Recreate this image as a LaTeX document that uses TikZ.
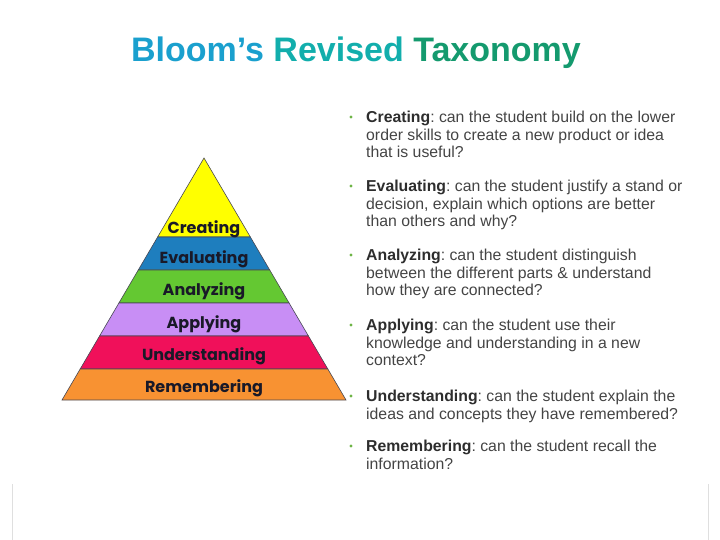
\documentclass[tikz,border=0pt]{standalone}
\usepackage{fontspec}
\setmainfont{Liberation Sans}
\newfontfamily\lvlfont{Poppins}
\usepackage{xcolor}
\definecolor{bltitleA}{RGB}{26,160,206}
\definecolor{bltitleB}{RGB}{18,174,172}
\definecolor{bltitleC}{RGB}{20,154,110}
\definecolor{blyellow}{RGB}{255,255,0}
\definecolor{blblue}{RGB}{30,126,190}
\definecolor{blgreen}{RGB}{100,200,50}
\definecolor{blpurple}{RGB}{200,142,245}
\definecolor{blred}{RGB}{240,16,90}
\definecolor{blorange}{RGB}{248,146,50}
\definecolor{blink}{RGB}{25,25,40}
\definecolor{bltext}{RGB}{68,68,68}
\definecolor{blbold}{RGB}{45,45,45}
\definecolor{bldot}{RGB}{110,180,70}
\usetikzlibrary{positioning,calc}
\frenchspacing

\begin{document}
\begin{tikzpicture}[
  x=1pt, y=-1pt,
  band/.style={draw=blink!80, line width=0.6pt},
  lvllabel/.style={font=\lvlfont\bfseries\fontsize{16}{16}\selectfont, text=blink, inner sep=0pt},
  itemtext/.style={
    anchor=north west, inner sep=0pt, align=left,
    font=\fontsize{15.8}{17.5}\selectfont, text=bltext
  },
  bulletdot/.style={circle, fill=bldot, inner sep=0pt, minimum size=3.2pt}
]
\useasboundingbox (0,0) rectangle (720,540);

% title
\node[font=\bfseries\fontsize{34}{34}\selectfont] (title) at (356,53)
  {{\color{bltitleA}Bloom’s} {\color{bltitleB}Revised} {\color{bltitleC}Taxonomy}};

% pyramid
\coordinate (apex) at (204,158);
\coordinate (bl) at (62,400);
\coordinate (br) at (346,400);

\foreach \ftop/\fbot/\col/\lbl in {
    0/0.3264/blyellow/Creating,
    0.3264/0.4628/blblue/Evaluating,
    0.4628/0.5992/blgreen/Analyzing,
    0.5992/0.7355/blpurple/Applying,
    0.7355/0.8719/blred/Understanding,
    0.8719/1/blorange/Remembering}{
  \draw[band, fill=\col] ($(apex)!\ftop!(bl)$) -- ($(apex)!\fbot!(bl)$)
    -- ($(apex)!\fbot!(br)$) -- ($(apex)!\ftop!(br)$) -- cycle;
}

\node[lvllabel] (creating)  at (204,229) {Creating};
\node[lvllabel] (evaluating) at (204,259) {Evaluating};
\node[lvllabel] (analyzing) at (204,291) {Analyzing};
\node[lvllabel] (applying)  at (204,324) {Applying};
\node[lvllabel] (understanding) at (204,356) {Understanding};
\node[lvllabel] (remembering) at (204,388) {Remembering};

% descriptions
\node[itemtext] (c1) at (366,111)
  {\textcolor{blbold}{\textbf{Creating}}: can the student build on the lower\\order skills to create a new product or idea\\that is useful?};
\node[itemtext] (c2) at (366,180)
  {\textcolor{blbold}{\textbf{Evaluating}}: can the student justify a stand or\\decision, explain which options are better\\than others and why?};
\node[itemtext] (c3) at (366,249)
  {\textcolor{blbold}{\textbf{Analyzing}}: can the student distinguish\\between the different parts \& understand\\how they are connected?};
\node[itemtext] (c4) at (366,319)
  {\textcolor{blbold}{\textbf{Applying}}: can the student use their\\knowledge and understanding in a new\\context?};
\node[itemtext] (c5) at (366,390)
  {\textcolor{blbold}{\textbf{Understanding}}: can the student explain the\\ideas and concepts they have remembered?};
\node[itemtext] (c6) at (366,440)
  {\textcolor{blbold}{\textbf{Remembering}}: can the student recall the\\information?};

\foreach \n in {c1,c2,c3,c4,c5,c6}
  \node[bulletdot] at ($(\n.north west)+(-15,6)$) {};

% faint frame edges at the bottom
\draw[gray!25, line width=1pt] (12,484) -- (12,540);
\draw[gray!25, line width=1pt] (708,484) -- (708,540);
\end{tikzpicture}
\end{document}
